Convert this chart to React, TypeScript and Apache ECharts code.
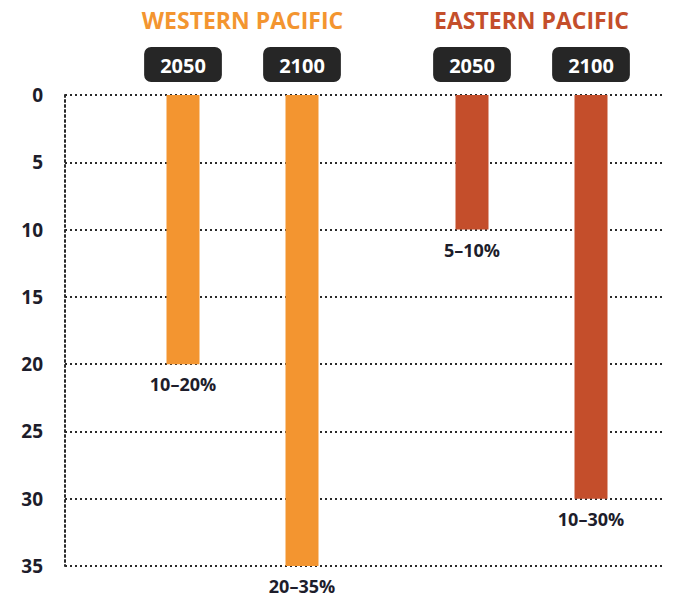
import React, { useEffect, useRef } from "react";
import * as echarts from "echarts";

const groupTitles = ["WESTERN PACIFIC", "EASTERN PACIFIC"];
const groupColors = ["#F39530", "#C44E2B"];
const years = ["2050", "2100"];
const westernValues = [20, 35];
const easternValues = [10, 30];
const westernLabels = ["10–20%", "20–35%"];
const easternLabels = ["5–10%", "10–30%"];
const yMin = 0;
const yMax = 35;
const yInterval = 5;

const FONT = "'Open Sans', 'Noto Sans', sans-serif";

export default function App() {
  const ref = useRef<HTMLDivElement>(null);
  useEffect(() => {
    if (!ref.current) return;
    const chart = echarts.init(ref.current, null, { renderer: "svg" });
    const gridTop = 95;
    const gridBottom = 35;
    const groupGrids = [
      { left: 123.5, width: 238 },
      { left: 412.5, width: 238 },
    ];
    const dotted = { color: "#2a2a2a", width: 2, type: [2, 3] as number[] };

    const groupData = [
      { values: westernValues, labels: westernLabels },
      { values: easternValues, labels: easternLabels },
    ];

    const option: any = {
      animation: false,
      grid: [
        { left: 65, right: 8, top: gridTop, bottom: gridBottom },
        ...groupGrids.map((g) => ({ left: g.left, width: g.width, top: gridTop, bottom: gridBottom })),
      ],
      xAxis: [
        { gridIndex: 0, type: "value", show: false, min: 0, max: 1 },
        ...groupGrids.map((_, i) => ({
          gridIndex: i + 1,
          type: "category",
          data: years,
          position: "top",
          axisLine: { show: false },
          axisTick: { show: false },
          splitLine: { show: false },
          axisLabel: {
            margin: 13,
            color: "#ffffff",
            fontFamily: FONT,
            fontWeight: "bold",
            fontSize: 20,
            backgroundColor: "#262626",
            borderRadius: 7,
            padding: [8, 16, 7, 16],
          },
        })),
      ],
      yAxis: [
        {
          gridIndex: 0,
          type: "value",
          inverse: true,
          min: yMin,
          max: yMax,
          interval: yInterval,
          axisLine: { show: true, lineStyle: dotted },
          axisTick: { show: false },
          splitLine: { show: true, lineStyle: dotted },
          axisLabel: {
            margin: 22,
            color: "#1d1d2b",
            fontFamily: FONT,
            fontWeight: "bold",
            fontSize: 19,
          },
        },
        ...groupGrids.map((_, i) => ({
          gridIndex: i + 1,
          type: "value",
          inverse: true,
          min: yMin,
          max: yMax,
          interval: yInterval,
          show: false,
        })),
      ],
      series: groupData.map((g, i) => ({
        type: "bar",
        xAxisIndex: i + 1,
        yAxisIndex: i + 1,
        barWidth: 33,
        itemStyle: { color: groupColors[i] },
        label: {
          show: true,
          position: "bottom",
          distance: 11,
          color: "#1d1d2b",
          fontFamily: FONT,
          fontWeight: "bold",
          fontSize: 18,
          formatter: (p: any) => g.labels[p.dataIndex],
        },
        data: g.values,
      })),
      graphic: groupGrids.map((g, i) => ({
        type: "text",
        x: g.left + g.width / 2,
        y: 20,
        style: {
          text: groupTitles[i],
          fill: groupColors[i],
          font: `bold 23px ${FONT}`,
          textAlign: "center",
          textVerticalAlign: "middle",
        },
      })),
    };
    chart.setOption(option);
    return () => chart.dispose();
  }, []);
  return (
    <div
      ref={ref}
      style={{ position: "fixed", left: 0, top: 0, width: 673, height: 601, background: "#fff" }}
    />
  );
}
